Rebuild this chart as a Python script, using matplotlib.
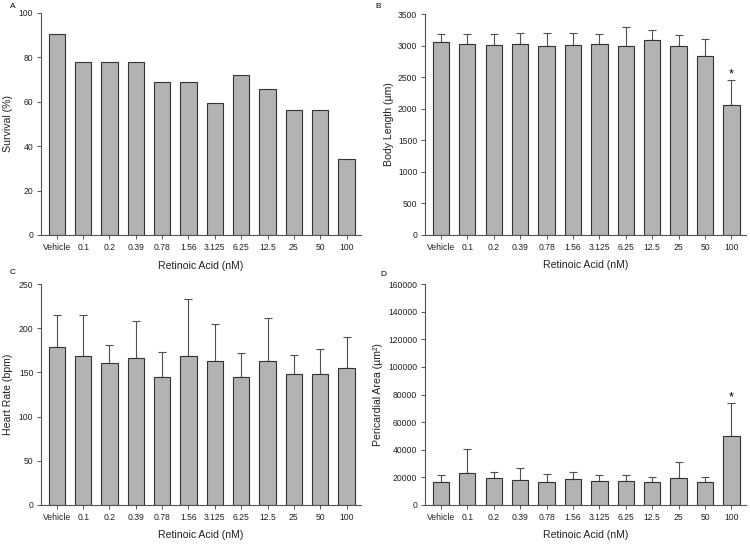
import numpy as np
import matplotlib
matplotlib.use("Agg")
import matplotlib.pyplot as plt

plt.rcParams['font.family'] = ['Liberation Sans', 'DejaVu Sans']

doses = ['Vehicle', '0.1', '0.2', '0.39', '0.78', '1.56', '3.125', '6.25', '12.5', '25', '50', '100']

# A - survival (%)
survival = [90.6, 78.1, 78.1, 78.1, 68.8, 68.8, 59.4, 71.9, 65.6, 56.3, 56.3, 34.4]

# B - body length (um), mean and SD
body_len = [3058, 3021, 3011, 3021, 2995, 3011, 3032, 2989, 3085, 3000, 2840, 2065]
body_err = [128, 160, 165, 176, 202, 186, 159, 298, 160, 165, 266, 387]

# C - heart rate (bpm)
heart = [178.4, 168.6, 160.6, 166.3, 145.0, 169.0, 163.3, 145.0, 163.0, 148.0, 148.5, 155.3]
heart_err = [36.6, 45.8, 20.4, 42.0, 27.7, 64.3, 41.7, 26.6, 48.4, 21.3, 28.0, 35.2]

# D - pericardial area (um^2)
peri = [16500, 22970, 19400, 18440, 17000, 19160, 17700, 17250, 16300, 19640, 16300, 50060]
peri_err = [5300, 17530, 4800, 8160, 5500, 4540, 4300, 4300, 4300, 11260, 4300, 23740]

W, H = 750, 547
BAR_C = '#b3b3b3'
EDGE_C = '#333333'


def panel(rect_px, letter, letter_xy, values, errs, ylabel, ylab_x, ymax, ystep, star=False):
    l, t, r, b = rect_px
    ax = fig.add_axes([l / W, 1 - b / H, (r - l) / W, (b - t) / H])
    x = np.arange(len(doses))
    ax.bar(x, values, width=0.62, color=BAR_C, edgecolor=EDGE_C, linewidth=0.8, zorder=2)
    if errs is not None:
        ax.errorbar(x, values, yerr=[np.zeros(len(errs)), errs], fmt='none',
                    ecolor='#505050', elinewidth=0.8, capsize=3, capthick=0.8, zorder=1)
    ax.set_xlim(-0.6, 11.55)
    ax.set_ylim(0, ymax)
    ax.set_yticks(np.arange(0, ymax + 1, ystep))
    ax.set_xticks(x)
    ax.set_xticklabels(doses)
    ax.tick_params(labelsize=6.2, length=3, width=0.7, pad=2.5, colors='#222222')
    ax.tick_params(color='#555555')
    for s in ['top', 'right']:
        ax.spines[s].set_visible(False)
    for s in ['left', 'bottom']:
        ax.spines[s].set_linewidth(0.8)
        ax.spines[s].set_color('#555555')
    ax.set_xlabel('Retinoic Acid (nM)', fontsize=7.6, color='#222222')
    ax.set_ylabel(ylabel, fontsize=7.6, color='#222222')
    ax.xaxis.set_label_coords(0.5, -0.115)
    ax.yaxis.set_label_coords(ylab_x, 0.5)
    if star:
        top = values[-1] + errs[-1]
        ax.text(11, top + ymax * 0.014, '*', ha='center', va='baseline', fontsize=9)
    fig.text(letter_xy[0] / W, 1 - letter_xy[1] / H, letter, fontsize=6,
             ha='center', va='center')
    return ax


fig = plt.figure(figsize=(7.5, 5.47), dpi=100)

panel((41, 13, 361, 235), 'A', (13, 7), survival, None, 'Survival (%)', -0.086, 100, 20)
panel((425, 14, 746, 235), 'B', (378, 6), body_len, body_err, 'Body Length (µm)', -0.098,
      3500, 500, star=True)
panel((41, 284, 361, 505), 'C', (13, 273), heart, heart_err, 'Heart Rate (bpm)', -0.086, 250, 50)
panel((425, 284, 746, 505), 'D', (383, 274), peri, peri_err, 'Pericardial Area (µm²)', -0.132,
      160000, 20000, star=True)

fig.savefig('out.png', dpi=100)
